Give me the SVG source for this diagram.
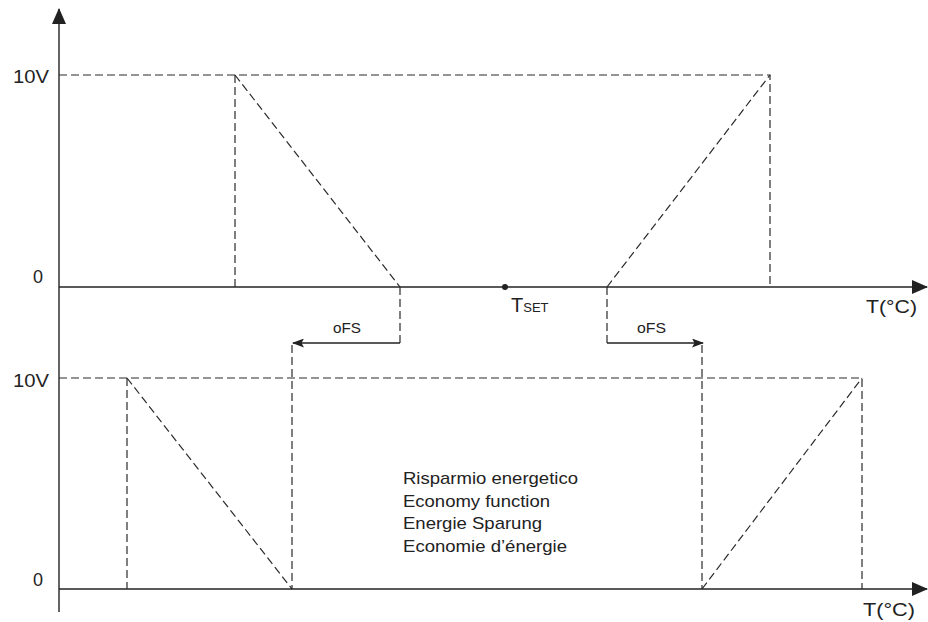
<svg xmlns="http://www.w3.org/2000/svg" width="928" height="622" viewBox="0 0 928 622">
<style>
.ax{stroke:#222;stroke-width:1.4;fill:none}
.d{stroke:#2a2a2a;stroke-width:1.2;stroke-dasharray:8 4;fill:none}
.s{stroke:#222;stroke-width:1.3;fill:none}
text{font-family:"Liberation Sans",Arial,sans-serif;fill:#222}
.l{font-size:18px}
.m{font-size:17px}
.o{font-size:15px}
</style>
<defs>
<marker id="ah" markerWidth="12" markerHeight="9" refX="11" refY="4.5" orient="auto" markerUnits="userSpaceOnUse" viewBox="0 0 12 9">
<path d="M0,0 L12,4.5 L0,9 L2.5,4.5 Z" fill="#222"/>
</marker>
<marker id="bh" markerWidth="16" markerHeight="14" refX="15" refY="7" orient="auto" markerUnits="userSpaceOnUse" viewBox="0 0 16 14">
<path d="M0,0 L16,7 L0,14 Z" fill="#222"/>
</marker>
</defs>
<rect width="928" height="622" fill="#fff"/>
<g id="axes">
<line class="ax" x1="59" y1="612" x2="59" y2="9" marker-end="url(#bh)"/>
<line class="ax" x1="59" y1="287" x2="927" y2="287" marker-end="url(#bh)"/>
<line class="ax" x1="59" y1="589" x2="927" y2="589" marker-end="url(#bh)"/>
</g>
<g id="connectors">
<polyline class="d" points="59,75 770,75 770,287"/>
<line class="d" x1="235" y1="75" x2="235" y2="287"/>
<line class="d" x1="235" y1="75" x2="400" y2="287"/>
<line class="d" x1="607" y1="287" x2="770" y2="75"/>
<line class="d" x1="400" y1="287" x2="400" y2="343"/>
<line class="d" x1="607" y1="287" x2="607" y2="343"/>
<line class="s" x1="400" y1="343" x2="293" y2="343" marker-end="url(#ah)"/>
<line class="s" x1="607" y1="343" x2="703" y2="343" marker-end="url(#ah)"/>
<polyline class="d" points="59,378 862,378 862,589"/>
<line class="d" x1="127" y1="378" x2="127" y2="589"/>
<line class="d" x1="127" y1="378" x2="292" y2="589"/>
<line class="d" x1="292" y1="345" x2="292" y2="589"/>
<line class="d" x1="702" y1="345" x2="702" y2="589"/>
<line class="d" x1="702" y1="589" x2="862" y2="378"/>
</g>
<g id="tset">
<circle cx="505" cy="287" r="3" fill="#222"/>
<text x="511" y="312" font-size="20">T<tspan font-size="13">SET</tspan></text>
</g>
<g id="labels">
<text x="13" y="83" class="l" textLength="36" lengthAdjust="spacingAndGlyphs">10V</text>
<text x="33" y="283" class="l">0</text>
<text x="866" y="313" class="l" textLength="51" lengthAdjust="spacingAndGlyphs">T(°C)</text>
<text x="13" y="387" class="l" textLength="36" lengthAdjust="spacingAndGlyphs">10V</text>
<text x="33" y="586" class="l">0</text>
<text x="863" y="616" class="l" textLength="52" lengthAdjust="spacingAndGlyphs">T(°C)</text>
<text x="333" y="333" class="o" textLength="28" lengthAdjust="spacingAndGlyphs">oFS</text>
<text x="637" y="333" class="o" textLength="29" lengthAdjust="spacingAndGlyphs">oFS</text>
</g>
<g id="note" class="m">
<text x="403" y="484" textLength="175" lengthAdjust="spacingAndGlyphs">Risparmio energetico</text>
<text x="403" y="507" textLength="147" lengthAdjust="spacingAndGlyphs">Economy function</text>
<text x="403" y="529" textLength="139" lengthAdjust="spacingAndGlyphs">Energie Sparung</text>
<text x="403" y="552" textLength="164" lengthAdjust="spacingAndGlyphs">Economie d’énergie</text>
</g>
</svg>
